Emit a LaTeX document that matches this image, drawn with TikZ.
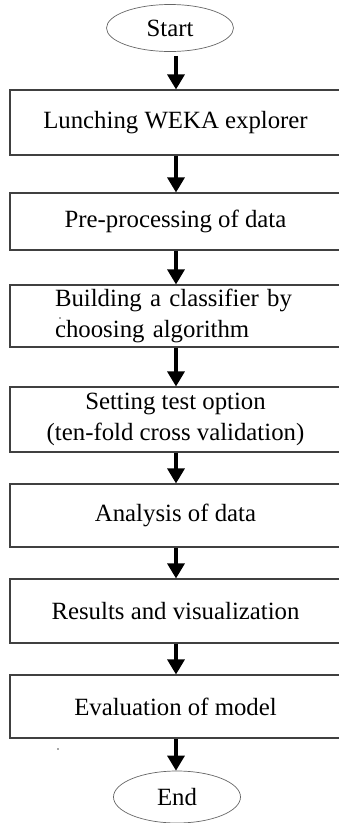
\documentclass[tikz,border=0pt]{standalone}
\usepackage{fontspec}
\setmainfont{Liberation Serif}
\usetikzlibrary{arrows.meta,shapes.geometric}
\begin{document}
\begin{tikzpicture}[x=1pt,y=-1pt,
  txt/.style={font=\fontsize{24.8}{31.5}\selectfont},
  stepbox/.style={txt, draw=black!75, line width=1.1pt, rectangle,
    minimum width=331pt, inner sep=0pt, align=center},
  terminal/.style={txt, draw=black!60, line width=0.7pt, ellipse, inner sep=0pt},
  flow/.style={line width=3.2pt, -{Triangle[width=17pt,length=15pt]}}]
\useasboundingbox (0,0) rectangle (339,823);
\clip (0,0) rectangle (339,823);

% terminals
\node[terminal, minimum width=127pt, minimum height=47pt] (start) at (170,28) {Start};
\node[terminal, minimum width=127pt, minimum height=52pt] (end) at (177,797) {End};

% process steps
\node[stepbox, minimum height=65pt] (b1) at (175.5,122.5) {\raisebox{-3pt}{Lunching WEKA explorer}};
\node[stepbox, minimum height=57pt] (b2) at (175.5,221.5) {Pre-processing of data};
\node[stepbox, minimum height=62pt, text width=241pt, align=left] (b3) at (175.5,316)
  {Building a classifier by\\choosing algorithm};
\node[stepbox, minimum height=65pt] (b4) at (175.5,419.5)
  {Setting test option\\(ten-fold cross validation)};
\node[stepbox, minimum height=63pt] (b5) at (175.5,515.5) {Analysis of data};
\node[stepbox, minimum height=64pt] (b6) at (175.5,611) {Results and visualization};
\node[stepbox, minimum height=63pt] (b7) at (175.5,706.5) {Evaluation of model};

% connectors run down one column
\coordinate (ax) at (176,0);
\draw[flow, shorten <=4pt] (start.south -| ax) -- (b1.north -| ax);
\draw[flow] (b1.south -| ax) -- (b2.north -| ax);
\draw[flow] (b2.south -| ax) -- (b3.north -| ax);
\draw[flow] (b3.south -| ax) -- (b4.north -| ax);
\draw[flow] (b4.south -| ax) -- (b5.north -| ax);
\draw[flow] (b5.south -| ax) -- (b6.north -| ax);
\draw[flow] (b6.south -| ax) -- (b7.north -| ax);
\draw[flow] (b7.south -| ax) -- (end.north -| ax);

% two stray specks
\fill[black!70] (60,318) circle (0.8pt);
\fill[black!70] (58,749) circle (0.8pt);
\end{tikzpicture}
\end{document}
